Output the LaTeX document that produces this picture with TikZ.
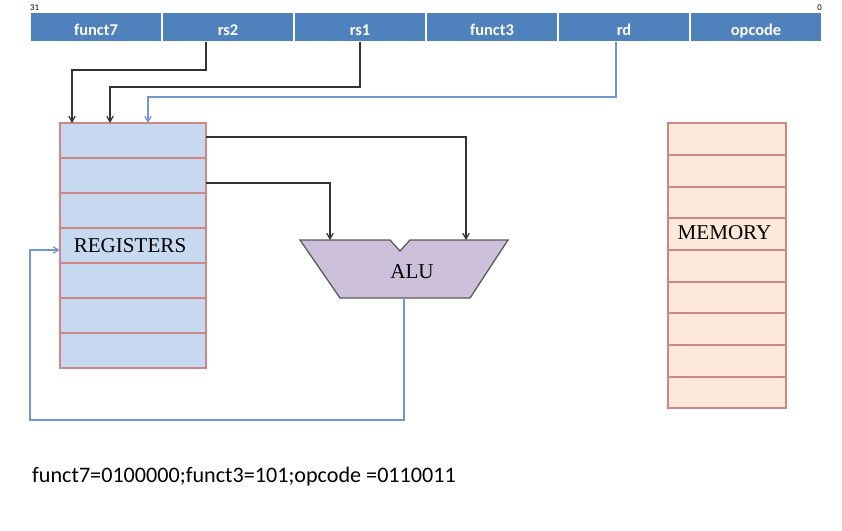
\documentclass[tikz,border=0pt]{standalone}
\usepackage{fontspec}
\setmainfont{Liberation Serif}
\newfontfamily\calibri{Carlito}
\usepackage{tikz}
\usetikzlibrary{arrows, positioning, calc}
\definecolor{fieldblue}{HTML}{4F81BD}
\definecolor{regfill}{HTML}{C6D9F1}
\definecolor{memfill}{HTML}{FDE9D9}
\definecolor{cellline}{HTML}{D08684}
\definecolor{alufill}{HTML}{CCC0DA}
\definecolor{wireblue}{HTML}{6F98CF}
\tikzset{
  field/.style = {rectangle, fill=fieldblue, draw=white, line width=1pt, outer sep=0pt,
    minimum width=3.96cm, minimum height=0.9cm, inner sep=0pt,
    text height=14pt, text depth=0pt,
    text=white, font=\calibri\bfseries\fontsize{14}{16}\selectfont},
  cellbox/.style = {rectangle, draw=cellline, line width=1.3pt, outer sep=0pt, inner sep=0pt},
  cellsep/.style = {draw=cellline, line width=1.3pt},
  blocktext/.style = {inner sep=0pt, font=\fontsize{18}{20}\selectfont},
  wire/.style = {->, draw=black!80, line width=1.1pt},
  fb/.style = {->, draw=wireblue, line width=1.1pt}
}

\begin{document}
\begin{tikzpicture}[x=0.03cm, y=-0.03cm, >=angle 60]
\useasboundingbox (0,0) rectangle (842,530);
% instruction fields
\node [field] (funct7) at (96,27) {funct7};
\node [field, right=0pt of funct7] (rs2) {rs2};
\node [field, right=0pt of rs2] (rs1) {rs1};
\node [field, right=0pt of rs1] (funct3) {funct3};
\node [field, right=0pt of funct3] (rd) {rd};
\node [field, right=0pt of rd] (opcode) {opcode};
\node [anchor=south west, inner sep=0pt, font=\calibri\fontsize{7.5}{8}\selectfont]
  (msb) at ([yshift=1pt]funct7.north west) {31};
\node [anchor=south east, inner sep=0pt, font=\calibri\fontsize{7.5}{8}\selectfont]
  (lsb) at ([yshift=1pt]opcode.north east) {0};

% register file
\node [cellbox, fill=regfill, minimum width=4.38cm, minimum height=7.35cm] (regs) at (133,245.5) {};
\foreach \y in {158,193,228,263,298,333}
  \draw [cellsep] (60,\y) -- (206,\y);
\node [blocktext] (reglabel) at (130,246) {REGISTERS};

% memory
\node [cellbox, fill=memfill, minimum width=3.54cm, minimum height=8.55cm] (mem) at (727,265.5) {};
\foreach \y in {155,187,218,250,282,313,345,377}
  \draw [cellsep] (668,\y) -- (786,\y);
\node [blocktext] (memlabel) at (724.5,233) {MEMORY};

% alu
\draw [fill=alufill, draw=black!65, line width=1.1pt] (300,240) -- (390,240) -- (400,251) -- (410,240)
  -- (508,240) -- (470,298) -- (340,298) -- cycle;
\node [blocktext] (alulabel) at (412,272) {ALU};
\coordinate (aluA) at (330,240);
\coordinate (aluB) at (466,240);
\coordinate (aluout) at (404,298);

% operands
\draw [wire] ($(rs2.south)+(-22,0)$) -- ++(0,28) -| ($(regs.north west)+(12,0)$);
\draw [wire] (rs1.south) -- ++(0,45) -| ($(regs.north west)+(50,0)$);
\draw [fb] ($(rd.south)+(-8,0)$) -- ++(0,55) -| ($(regs.north west)+(88,0)$);
\draw [wire] ($(regs.north east)+(0,14)$) -| (aluB);
\draw [wire] ($(regs.north east)+(0,60)$) -| (aluA);
\draw [fb] (aluout) -- ++(0,122) -- ++(-374,0) |- ($(regs.west)+(0,4.5)$);

\node [anchor=west, inner sep=0pt, font=\calibri\fontsize{18.9}{21}\selectfont]
  (codes) at (32,477) {funct7=0100000;funct3=101;opcode =0110011};
\end{tikzpicture}
\end{document}
